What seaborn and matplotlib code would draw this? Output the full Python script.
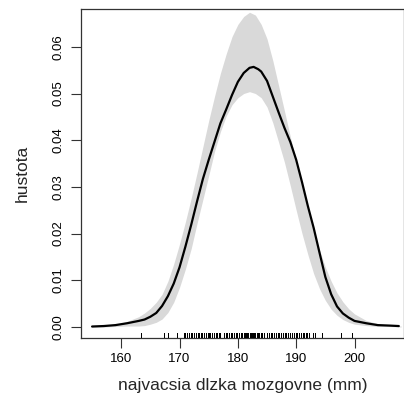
import matplotlib
matplotlib.use("Agg")
import matplotlib.pyplot as plt
import seaborn as sns
import pandas as pd

# Kernel density estimate
dens_x = [155, 157, 159, 161, 163, 164, 165, 166, 167, 168, 169, 170, 171, 172, 173,
          174, 175, 176, 177, 178, 179, 180, 181, 182, 182.7, 183.5, 184, 185, 186,
          187, 188, 189, 190, 191, 192, 193, 194, 195, 196, 197, 198, 199, 200, 202,
          204, 206, 207.6]
dens_y = [0.0001, 0.0002, 0.0004, 0.0008, 0.0013, 0.0016, 0.0022, 0.0030, 0.0045, 0.0066,
          0.0093, 0.0128, 0.0172, 0.0219, 0.0269, 0.0317, 0.0358, 0.0397, 0.0436, 0.0466,
          0.0497, 0.0525, 0.0544, 0.0555, 0.0557, 0.0552, 0.0547, 0.0527, 0.0493, 0.0459,
          0.0426, 0.0396, 0.0358, 0.0310, 0.0259, 0.0212, 0.0159, 0.0107, 0.0070, 0.0044,
          0.0029, 0.0020, 0.0013, 0.0008, 0.0004, 0.0003, 0.0002]

# Reference band (normal model)
band_x = [155, 157, 159, 161, 163, 164, 165, 166, 167, 168, 169, 170, 171, 172, 173,
          174, 175, 176, 177, 178, 179, 180, 181, 182, 183, 184, 185, 186, 187, 188,
          189, 190, 191, 192, 193, 194, 195, 196, 197, 198, 199, 200, 202, 204, 206, 208]
band_hi = [0.0001, 0.0002, 0.0005, 0.0012, 0.0022, 0.0030, 0.0040, 0.0053, 0.0070, 0.0098,
           0.0135, 0.0178, 0.0225, 0.0276, 0.0330, 0.0386, 0.0442, 0.0494, 0.0543, 0.0585,
           0.0622, 0.0648, 0.0665, 0.0674, 0.0668, 0.0648, 0.0617, 0.0570, 0.0516, 0.0462,
           0.0407, 0.0356, 0.0304, 0.0254, 0.0208, 0.0165, 0.0128, 0.0098, 0.0073, 0.0054,
           0.0039, 0.0028, 0.0014, 0.0007, 0.0004, 0.0002]
band_lo = [0.0000, 0.0000, 0.0001, 0.0002, 0.0002, 0.0003, 0.0006, 0.0010, 0.0017, 0.0031,
           0.0053, 0.0085, 0.0124, 0.0168, 0.0222, 0.0273, 0.0324, 0.0376, 0.0418, 0.0452,
           0.0476, 0.0491, 0.0500, 0.0504, 0.0500, 0.0491, 0.0471, 0.0437, 0.0395, 0.0352,
           0.0302, 0.0250, 0.0200, 0.0155, 0.0114, 0.0082, 0.0057, 0.0038, 0.0025, 0.0016,
           0.0010, 0.0006, 0.0003, 0.0001, 0.0001, 0.0000]

# Observations shown in the rug
rug_x = [163.4, 167.4, 168.0, 169.5, 170.7, 171.0, 171.2, 171.6, 171.9, 172.2, 172.5,
         172.8, 173.1, 173.4, 173.6, 173.9, 174.2, 174.5, 174.8, 175.0, 175.3, 175.6,
         175.9, 176.2, 176.5, 176.8, 177.0, 177.6, 177.9, 178.2, 178.5, 178.8, 179.0,
         179.3, 179.6, 179.9, 180.2, 180.5, 180.7, 181.0, 181.2, 181.4, 181.6, 181.8,
         182.0, 182.2, 182.4, 182.6, 182.8, 183.0, 183.2, 183.4, 183.6, 183.9, 184.2,
         184.5, 185.0, 185.3, 185.6, 185.9, 186.2, 186.5, 186.8, 187.1, 187.4, 187.7,
         188.0, 188.3, 188.6, 189.0, 189.3, 189.6, 189.9, 190.2, 190.5, 190.8, 191.1,
         191.3, 191.6, 191.9, 192.2, 192.8, 193.3, 194.5, 197.6, 199.6]

x_ticks = [160, 170, 180, 190, 200]
y_ticks = [0.00, 0.01, 0.02, 0.03, 0.04, 0.05, 0.06]
y_tick_labels = ["0.00", "0.01", "0.02", "0.03", "0.04", "0.05", "0.06"]

sns.set_style("ticks")
plt.rcParams["font.family"] = ["Liberation Sans", "DejaVu Sans"]

fig = plt.figure(figsize=(4.04, 4.07), dpi=100)
ax = fig.add_axes([81 / 404, 1 - 338 / 407, 322.5 / 404, 329 / 407])

ax.fill_between(band_x, band_lo, band_hi, color="#d9d9d9", linewidth=0, zorder=1)
dens_df = pd.DataFrame({"x": dens_x, "y": dens_y})
sns.lineplot(data=dens_df, x="x", y="y", color="black", linewidth=1.6, ax=ax, zorder=3,
             solid_joinstyle="round")
sns.rugplot(x=rug_x, height=0.015, color="black", linewidth=0.72, ax=ax, zorder=4,
            antialiased=False)

ax.set_xlim(153.1, 208.4)
ax.set_ylim(-0.00236, 0.0681)
ax.set_xticks(x_ticks)
ax.set_yticks(y_ticks)
ax.set_yticklabels(y_tick_labels, rotation=90, va="center")
ax.tick_params(axis="both", direction="out", length=7, width=0.8, color="#333333",
               labelsize=9.5, labelcolor="black")
ax.tick_params(axis="x", pad=4)
ax.tick_params(axis="y", pad=5)
for s in ax.spines.values():
    s.set_visible(True)
    s.set_linewidth(0.9)
    s.set_color("#333333")

ax.set_xlabel("najvacsia dlzka mozgovne (mm)", fontsize=12.5, labelpad=9)
ax.set_ylabel("hustota", fontsize=12.5, labelpad=16)

fig.savefig("out.png", dpi=100)
